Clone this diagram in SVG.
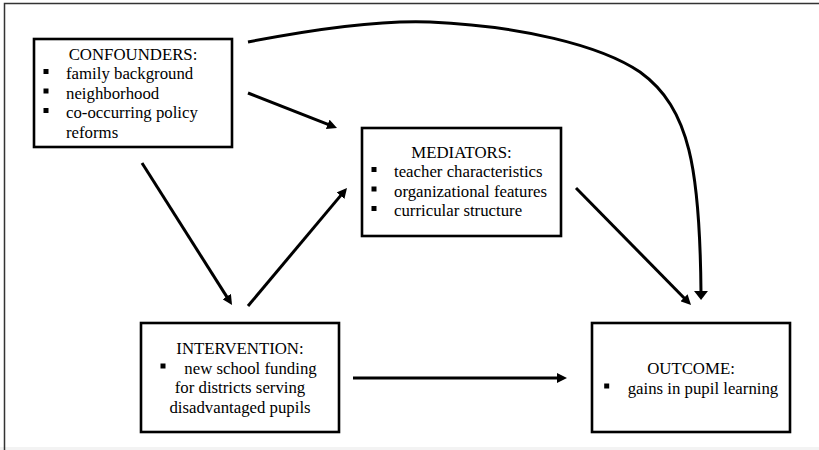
<svg xmlns="http://www.w3.org/2000/svg" width="819" height="450" viewBox="0 0 819 450">
<style>
.box{fill:#fff;stroke:#000;stroke-width:2.6}
text{font-family:'Liberation Serif','Times New Roman','DejaVu Serif',serif;font-size:16.8px;fill:#000}
.c{text-anchor:middle}
.conn{fill:none;stroke:#000;stroke-width:3}
.frame{stroke:#333;stroke-width:1.5;fill:none}
</style>
<defs>
<marker id="ah" markerUnits="userSpaceOnUse" markerWidth="10" markerHeight="10" refX="3" refY="5" orient="auto" viewBox="0 0 10 10">
<path d="M0,0 L10,5 L0,10 z" fill="#000"/>
</marker>
<marker id="ahw" markerUnits="userSpaceOnUse" markerWidth="10" markerHeight="14" refX="2" refY="7" orient="auto" viewBox="0 0 10 14">
<path d="M0,0 L9,7 L0,14 z" fill="#000"/>
</marker>
</defs>
<rect x="0" y="0" width="819" height="450" fill="#fff"/>
<rect x="0" y="447" width="819" height="3" fill="#f3f3f3"/>
<path class="frame" d="M4.5,450 V3.5 H819"/>

<g id="connectors">
<path class="conn" d="M248,42 C320,28 380,20 430,22 C520,26 600,45 640,72 C690,108 700,170 701,293" marker-end="url(#ahw)"/>
<line class="conn" x1="248" y1="93" x2="330.5" y2="125.4" marker-end="url(#ah)"/>
<line class="conn" x1="142" y1="163" x2="228.3" y2="299.1" marker-end="url(#ah)"/>
<line class="conn" x1="248" y1="306" x2="342.5" y2="193.4" marker-end="url(#ah)"/>
<line class="conn" x1="576" y1="188" x2="686.1" y2="300" marker-end="url(#ah)"/>
<line class="conn" x1="353" y1="378" x2="560" y2="378" marker-end="url(#ah)"/>
</g>

<g id="confounders" font-family="Liberation Serif, serif">
<rect class="box" x="34" y="39" width="198" height="108"/>
<text class="c" x="133" y="60">CONFOUNDERS:</text>
<rect x="43.5" y="69" width="5" height="5"/>
<text x="66" y="79">family background</text>
<rect x="43.5" y="88.5" width="5" height="5"/>
<text x="66" y="98.5">neighborhood</text>
<rect x="43.5" y="108" width="5" height="5"/>
<text x="66" y="118">co-occurring policy</text>
<text x="66" y="137.5">reforms</text>
</g>

<g id="mediators" font-family="Liberation Serif, serif">
<rect class="box" x="362" y="128" width="199" height="108"/>
<text class="c" x="461.5" y="157.5">MEDIATORS:</text>
<rect x="371.5" y="167" width="5" height="5"/>
<text x="394" y="177">teacher characteristics</text>
<rect x="371.5" y="186.5" width="5" height="5"/>
<text x="394" y="196.5">organizational features</text>
<rect x="371.5" y="206" width="5" height="5"/>
<text x="394" y="216">curricular structure</text>
</g>

<g id="intervention" font-family="Liberation Serif, serif">
<rect class="box" x="141" y="323" width="198" height="109"/>
<text class="c" x="240" y="354">INTERVENTION:</text>
<rect x="160.5" y="363.5" width="5" height="5"/>
<text x="184.3" y="373.5">new school funding</text>
<text class="c" x="240" y="393">for districts serving</text>
<text class="c" x="240" y="412.5">disadvantaged pupils</text>
</g>

<g id="outcome" font-family="Liberation Serif, serif">
<rect class="box" x="592" y="323" width="198" height="109"/>
<text class="c" x="691" y="374">OUTCOME:</text>
<rect x="604.2" y="383.5" width="5" height="5"/>
<text x="627.7" y="393.5">gains in pupil learning</text>
</g>
</svg>
